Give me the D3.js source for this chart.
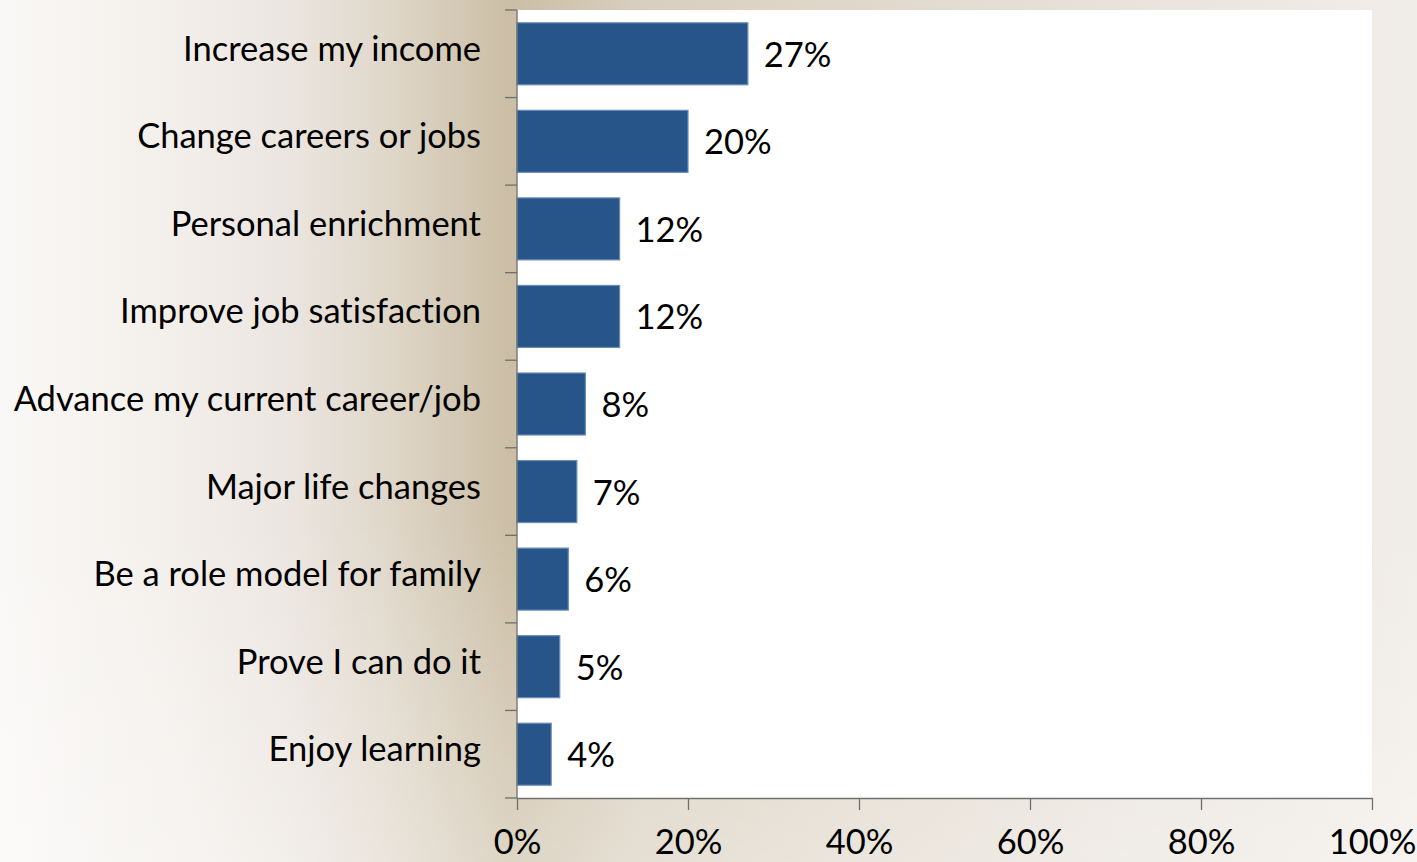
<!DOCTYPE html>
<html>
<head>
<meta charset="utf-8">
<script src="https://cdn.jsdelivr.net/npm/d3@7"></script>
<style>
  html, body { margin: 0; padding: 0; overflow: hidden; }
  svg { display: block; }
  text { font-family: Lato, "Open Sans", sans-serif; fill: #000; font-variant-ligatures: none; }
</style>
</head>
<body>
<svg id="chart" width="1417" height="862"></svg>
<script>
// Reasons for enrolling, share of respondents
const categories = [
  "Increase my income",
  "Change careers or jobs",
  "Personal enrichment",
  "Improve job satisfaction",
  "Advance my current career/job",
  "Major life changes",
  "Be a role model for family",
  "Prove I can do it",
  "Enjoy learning"
];
const values = [27, 20, 12, 12, 8, 7, 6, 5, 4];
const tickValues = [0, 20, 40, 60, 80, 100];
const tickLabels = ["0%", "20%", "40%", "60%", "80%", "100%"];

const W = 1417, H = 862;
const plot = { left: 517, right: 1372, top: 10, bottom: 798 };
const svg = d3.select("#chart");
const defs = svg.append("defs");

// Parchment-style backdrop
const bg = defs.append("linearGradient").attr("id", "bg")
  .attr("x1", 0).attr("x2", 1).attr("y1", 0).attr("y2", 0);
[[0, "#faf8f6"], [0.12, "#f3efeb"], [0.2, "#ece6e1"], [0.27, "#e0d8cb"],
 [0.36, "#cbbea5"], [0.45, "#d8cebd"], [0.62, "#e1d9cc"], [0.80, "#e9e3dc"], [1, "#f1ede8"]]
  .forEach(([o, c]) => bg.append("stop").attr("offset", o).attr("stop-color", c));
const fade = defs.append("linearGradient").attr("id", "fade")
  .attr("x1", 0).attr("x2", 0).attr("y1", 0).attr("y2", 1);
[[0, "#ffffff", 0], [0.6, "#ffffff", 0.0], [1, "#ffffff", 0.35]]
  .forEach(([o, c, a]) => fade.append("stop").attr("offset", o).attr("stop-color", c).attr("stop-opacity", a));

svg.append("rect").attr("width", W).attr("height", H).attr("fill", "url(#bg)");
svg.append("rect").attr("width", W).attr("height", H).attr("fill", "url(#fade)");

// White plot area
svg.append("rect")
  .attr("x", plot.left).attr("y", plot.top)
  .attr("width", plot.right - plot.left).attr("height", plot.bottom - plot.top)
  .attr("fill", "#ffffff");

const x = d3.scaleLinear().domain([0, 100]).range([plot.left, plot.right]);
const y = d3.scaleBand().domain(categories).range([plot.top, plot.bottom])
  .paddingInner(0.292).paddingOuter(0.146);
const step = y.step();

const fontSize = 34.5;
const axisColor = "#6f6f6f";

// Bars
svg.append("g").selectAll("rect").data(values).join("rect")
  .attr("x", x(0))
  .attr("y", (d, i) => y(categories[i]))
  .attr("width", d => x(d) - x(0))
  .attr("height", y.bandwidth())
  .attr("fill", "#285589")
  .attr("stroke", "#6a8cb7")
  .attr("stroke-width", 1.2);

// Value labels
svg.append("g").selectAll("text").data(values).join("text")
  .attr("x", d => x(d) + 16)
  .attr("y", (d, i) => y(categories[i]) + y.bandwidth() / 2 + 13)
  .attr("font-size", fontSize)
  .text(d => d + "%");

// Category labels
svg.append("g").selectAll("text").data(categories).join("text")
  .attr("x", plot.left - 36)
  .attr("y", d => y(d) + y.bandwidth() / 2 + 7)
  .attr("text-anchor", "end")
  .attr("font-size", fontSize)
  .text(d => d);

// Vertical axis with ticks on category boundaries
const yAxis = svg.append("g").attr("stroke", axisColor).attr("stroke-width", 1.3);
yAxis.append("line")
  .attr("x1", plot.left).attr("x2", plot.left)
  .attr("y1", plot.top).attr("y2", plot.bottom);
yAxis.selectAll("line.tick").data(d3.range(categories.length + 1)).join("line")
  .attr("class", "tick")
  .attr("x1", plot.left - 12).attr("x2", plot.left)
  .attr("y1", i => plot.top + i * step).attr("y2", i => plot.top + i * step);

// Horizontal axis
const xAxis = svg.append("g")
  .attr("transform", `translate(0,${plot.bottom})`)
  .call(d3.axisBottom(x).tickValues(tickValues).tickSize(12).tickSizeOuter(0)
    .tickFormat((d, i) => tickLabels[i]));
xAxis.select(".domain").attr("stroke", axisColor).attr("stroke-width", 1.3);
xAxis.selectAll(".tick line").attr("stroke", axisColor).attr("stroke-width", 1.3);
xAxis.selectAll(".tick text")
  .attr("font-size", fontSize)
  .attr("font-family", "Lato, 'Open Sans', sans-serif")
  .attr("fill", "#000")
  .attr("y", 0).attr("dy", 0)
  .attr("transform", "translate(0,56)");
</script>
</body>
</html>
